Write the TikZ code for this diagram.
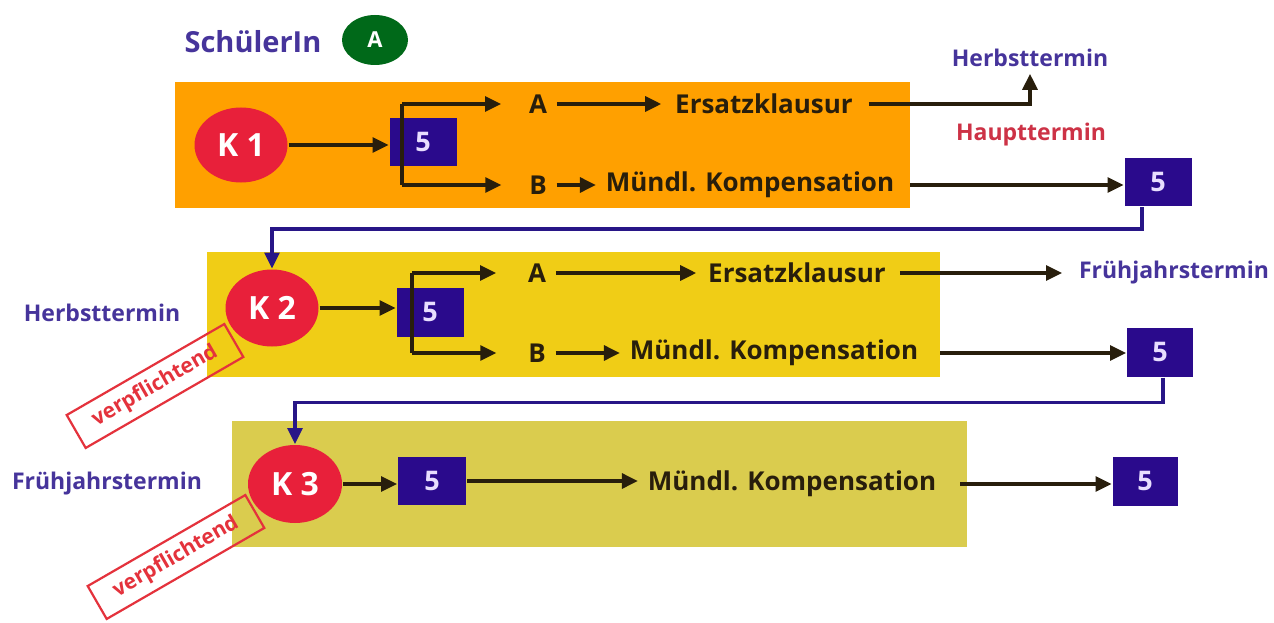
\documentclass[tikz,border=0pt]{standalone}
\usepackage{fontspec}
\setmainfont{Open Sans}
\usetikzlibrary{arrows.meta,shapes.geometric,calc}
\definecolor{pOrange}{RGB}{255,160,0}
\definecolor{pYellow}{RGB}{240,205,22}
\definecolor{pOlive}{RGB}{218,204,78}
\definecolor{kred}{RGB}{232,32,58}
\definecolor{dblue}{RGB}{42,10,140}
\definecolor{fivetxt}{RGB}{232,222,255}
\definecolor{ink}{RGB}{40,30,12}
\definecolor{sideblue}{RGB}{70,52,155}
\definecolor{lblue}{RGB}{40,22,135}
\definecolor{hred}{RGB}{205,50,70}
\definecolor{sred}{RGB}{228,50,60}
\definecolor{agreen}{RGB}{0,105,25}
\begin{document}
\begin{tikzpicture}[x=1pt,y=-1pt,
  panel/.style={rectangle,inner sep=0pt,outer sep=0pt},
  lbl/.style={font=\fontsize{26}{30}\selectfont\bfseries,text=ink,inner sep=1pt,outer sep=9pt},
  side/.style={font=\fontsize{23}{26}\selectfont\bfseries,text=sideblue,inner sep=1pt,outer sep=6pt},
  kell/.style={ellipse,fill=kred,text=white,font=\fontsize{32}{34}\selectfont\bfseries,inner sep=0pt,outer sep=1pt},
  five/.style={rectangle,fill=dblue,text=fivetxt,font=\fontsize{27}{28}\selectfont\bfseries,inner sep=0pt,outer sep=1pt},
  arr/.style={line width=3.2pt,draw=ink,-{Triangle[length=16pt,width=15pt]}},
  brk/.style={line width=3.2pt,draw=ink},
  fb/.style={line width=3.2pt,draw=lblue,-{Triangle[length=16pt,width=15pt]}},
  stamp/.style={draw=sred,line width=2.2pt,text=sred,rotate=30,minimum width=182pt,minimum height=38pt,inner sep=0pt,font=\fontsize{21}{23}\selectfont\bfseries}
]
\fill[white] (0,0) rectangle (1274,623);
\useasboundingbox (0,0) rectangle (1274,623);

% panels
\node[panel,fill=pOrange,minimum width=735pt,minimum height=126pt] (p1) at (542.5,145) {};
\node[panel,fill=pYellow,minimum width=733pt,minimum height=125pt] (p2) at (573.5,314.5) {};
\node[panel,fill=pOlive,minimum width=735pt,minimum height=126pt] (p3) at (599.5,484) {};

% header
\node[font=\fontsize{29}{32}\selectfont\bfseries,text=sideblue] (sch) at (253,42) {SchülerIn};
\node[ellipse,fill=agreen,text=white,minimum width=66pt,minimum height=50pt,inner sep=0pt,font=\fontsize{22}{24}\selectfont\bfseries] (grpA) at (375,40) {A};

% ---------- nodes ----------
\node[kell,minimum width=93pt,minimum height=75pt] (K1) at (241,145) {K 1};
\node[five,minimum width=67pt,minimum height=47pt] (b1) at (423,142) {5};
\node[lbl] (A1) at (538,104) {A};
\node[lbl] (E1) at (764,104) {Ersatzklausur};
\node[lbl] (B1) at (538,185) {B};
\node[lbl] (M1) at (750,185) {Mündl. Kompensation};
\node[side] (H1) at (1030,58) {Herbsttermin};
\node[side,text=hred] (HT) at (1031,135) {Haupttermin};
\node[five,minimum width=67pt,minimum height=48pt] (b1r) at (1158,182) {5};
\coordinate (t1) at (402,104);
\coordinate (u1) at (402,185);

\node[kell,minimum width=93pt,minimum height=77pt] (K2) at (272,308) {K 2};
\node[five,minimum width=67pt,minimum height=49pt] (b2) at (430,312) {5};
\node[lbl] (A2) at (537,273) {A};
\node[lbl] (E2) at (797,273) {Ersatzklausur};
\node[lbl] (B2) at (537,353) {B};
\node[lbl] (M2) at (774,353) {Mündl. Kompensation};
\node[side] (F2) at (1174,273) {Frühjahrstermin};
\node[side] (HL) at (102,313) {Herbsttermin};
\node[five,minimum width=66pt,minimum height=49pt] (b2r) at (1160,352) {5};
\coordinate (t2) at (412,273);
\coordinate (u2) at (412,353);

\node[kell,minimum width=94pt,minimum height=78pt] (K3) at (295,484) {K 3};
\node[five,minimum width=68pt,minimum height=48pt] (b3) at (432,481) {5};
\node[lbl] (M3) at (792,484) {Mündl. Kompensation};
\node[side] (FL) at (107,484) {Frühjahrstermin};
\node[five,minimum width=65pt,minimum height=49pt] (b3r) at (1145,481) {5};

% ---------- row 1 connectors ----------
\draw[arr] (K1.east) -- (K1.east -| b1.west);
\draw[brk] (t1) -- (u1);
\draw[arr,shorten >=18pt] (t1) -- (A1.west);
\draw[arr,shorten >=18pt] (u1) -- (B1.west);
\draw[arr,shorten >=4pt] (A1.east) -- (E1.west);
\draw[arr] (B1.east) -- (M1.west);
\draw[arr,shorten <=6pt] (E1.east) -| (H1.south);
\draw[arr,shorten <=6pt] (M1.east) -- (M1.east -| b1r.west);
\draw[fb] ([xshift=-16pt]b1r.south) -- ++(0,22) -| (K2.north);

% ---------- row 2 connectors ----------
\draw[arr] (K2.east) -- (K2.east -| b2.west);
\draw[brk] (t2) -- (u2);
\draw[arr,shorten >=22pt] (t2) -- (A2.west);
\draw[arr,shorten >=22pt] (u2) -- (B2.west);
\draw[arr,shorten >=2pt] (A2.east) -- (E2.west);
\draw[arr] (B2.east) -- (M2.west);
\draw[arr,shorten <=4pt,shorten >=10pt] (E2.east) -- (F2.west);
\draw[arr,shorten <=12pt] (M2.east) -- (M2.east -| b2r.west);
\draw[fb] ([xshift=3pt]b2r.south) -- ++(0,25) -| (K3.north);

% ---------- row 3 connectors ----------
\draw[arr] (K3.east) -- (K3.east -| b3.west);
\draw[arr] (b3.east) -- (b3.east -| M3.west);
\draw[arr,shorten <=14pt] (M3.east) -- (M3.east -| b3r.west);

% stamps
\node[stamp] (s1) at (155,386) {verpflichtend};
\node[stamp] (s2) at (176,557) {verpflichtend};
\end{tikzpicture}
\end{document}
